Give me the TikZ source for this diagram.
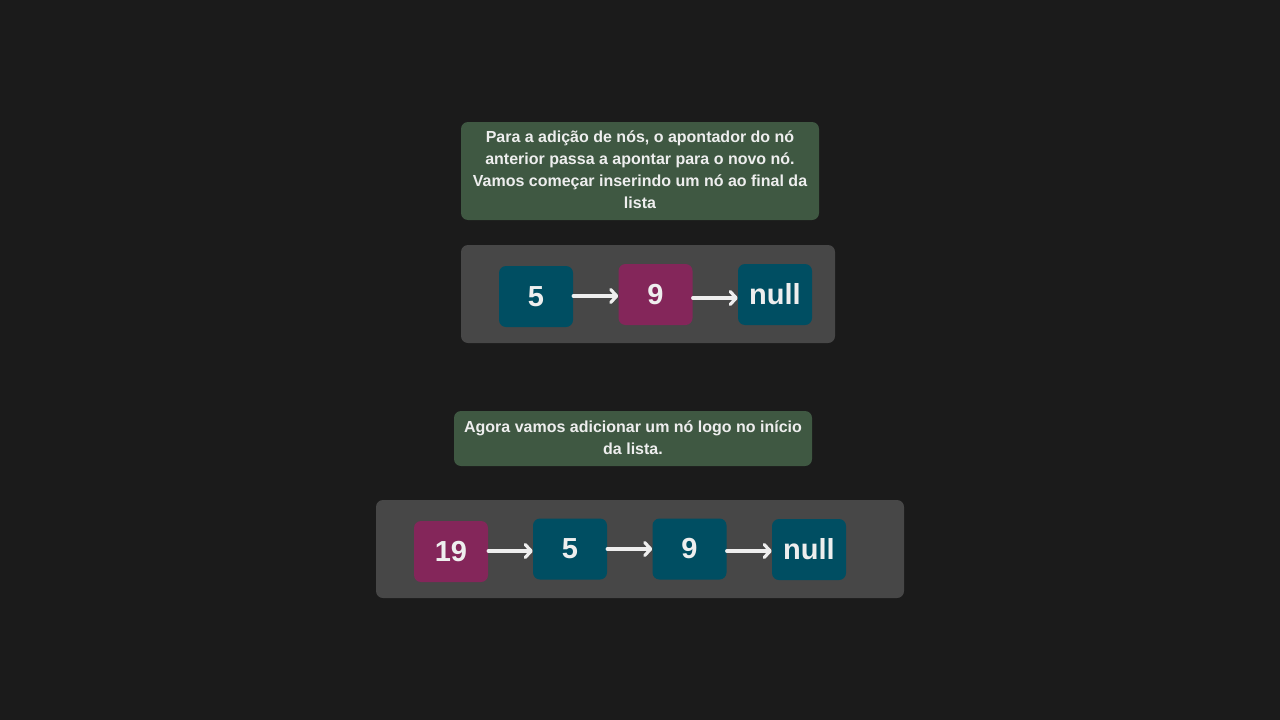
\documentclass[tikz,border=0pt]{standalone}
\usepackage{fontspec}
\setmainfont{Liberation Sans}
\usetikzlibrary{arrows.meta}
\definecolor{bgdark}{HTML}{1B1B1B}
\definecolor{notegreen}{HTML}{3F5842}
\definecolor{panelgray}{HTML}{474747}
\definecolor{cellteal}{HTML}{004E62}
\definecolor{cellpink}{HTML}{84265A}
\definecolor{inkwhite}{HTML}{EEEEEE}
\tikzset{
  note/.style={text=inkwhite, align=center,
    font=\bfseries\fontsize{16}{22}\selectfont, inner sep=0pt},
  notebox/.style={fill=notegreen, rounded corners=7pt},
  panel/.style={fill=panelgray, rounded corners=7pt},
  cell/.style={rounded corners=7pt, text=inkwhite, minimum width=74pt, minimum height=61pt,
    font=\bfseries\fontsize{29}{32}\selectfont, inner sep=0pt},
  link/.style={draw=inkwhite, line width=3.2pt, line cap=round,
    -{Straight Barb[length=6pt, width=13pt, round]}}
}
\begin{document}
\begin{tikzpicture}[x=1pt, y=-1pt]
  % background
  \fill[bgdark] (0,0) rectangle (1280,720);
  \useasboundingbox (0,0) rectangle (1280,720);

  % first step: insert at the end
  \fill[notebox] (461,122) rectangle (819,220);
  \node[note] (noteEnd) at (640,169.5)
    {Para a adição de nós, o apontador do nó\\anterior passa a apontar para o novo nó.\\Vamos começar inserindo um nó ao final da\\lista};
  \fill[panel] (461,245) rectangle (835,343);
  \node[cell, fill=cellteal] (aFive) at (536,296.5) {5};
  \node[cell, fill=cellpink] (aNine) at (655.5,294.5) {9};
  \node[cell, fill=cellteal] (aNull) at (775,294.5) {null};
  \draw[link] (aFive.east |- 0,296) -- (aNine.west |- 0,296);
  \draw[link] (aNine.east |- 0,298) -- (aNull.west |- 0,298);

  % second step: insert at the start
  \fill[notebox] (454,411) rectangle (812,466);
  \node[note] (noteStart) at (633,437.5)
    {Agora vamos adicionar um nó logo no início\\da lista.};
  \fill[panel] (376,500) rectangle (904,598);
  \node[cell, fill=cellpink] (bNineteen) at (451,551.5) {19};
  \node[cell, fill=cellteal] (bFive) at (570,549) {5};
  \node[cell, fill=cellteal] (bNine) at (689.5,549) {9};
  \node[cell, fill=cellteal] (bNull) at (809,549.5) {null};
  \draw[link] (bNineteen.east |- 0,551) -- (bFive.west |- 0,551);
  \draw[link] (bFive.east |- 0,549) -- (bNine.west |- 0,549);
  \draw[link] (bNine.east |- 0,551) -- (bNull.west |- 0,551);
\end{tikzpicture}
\end{document}
